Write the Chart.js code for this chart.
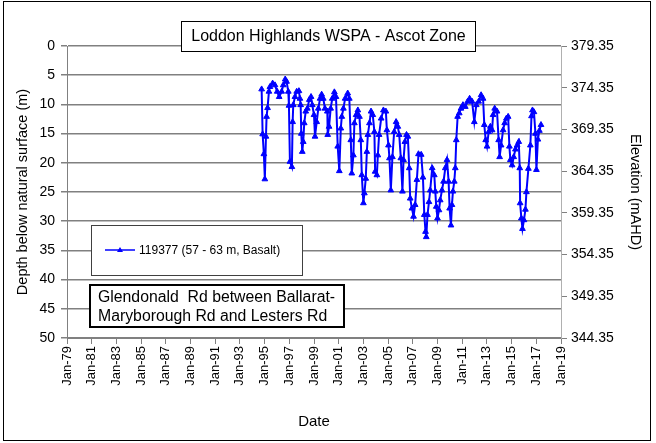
<!DOCTYPE html>
<html>
<head>
<meta charset="utf-8">
<script src="https://cdn.jsdelivr.net/npm/chart.js@4.4.0/dist/chart.umd.min.js"></script>
<style>
body{margin:0;background:#fff;}
canvas{display:block;}
</style>
</head>
<body>
<canvas id="bore" width="656" height="443"></canvas>
<script>
// bore 119377 - depth to water (m below natural surface), dates as decimal years
let dates=[1994.76,1994.84,1994.94,1995.02,1995.11,1995.16,1995.24,1995.35,1995.43,1995.65,1995.84,1996.02,1996.18,1996.38,1996.51,1996.67,1996.78,1996.92,1996.97,1997.05,1997.21,1997.27,1997.32,1997.46,1997.60,1997.78,1997.86,1997.92,1997.97,1998.05,1998.13,1998.21,1998.33,1998.46,1998.62,1998.76,1998.86,1999.00,1999.08,1999.22,1999.35,1999.49,1999.62,1999.75,1999.89,2000.08,2000.11,2000.22,2000.35,2000.48,2000.65,2000.78,
  2000.92,2001.05,2001.17,2001.25,2001.38,2001.52,2001.73,2001.86,2001.98,2002.06,2002.19,2002.27,2002.41,2002.55,2002.68,2002.79,2002.87,2003.00,2003.08,2003.19,2003.28,2003.36,2003.49,2003.62,2003.76,2003.89,2003.95,2004.09,2004.17,2004.27,2004.44,2004.62,2004.82,2004.90,2005.03,2005.11,2005.22,2005.35,2005.49,2005.65,2005.79,2005.90,2006.03,2006.16,2006.25,2006.36,2006.49,2006.60,2006.71,2006.79,2006.93,2007.06,2007.19,2007.33,2007.46,2007.68,2007.82,2007.93,
  2008.03,2008.09,2008.19,2008.31,2008.41,2008.57,2008.74,2008.82,2008.90,2009.00,2009.12,2009.22,2009.36,2009.49,2009.63,2009.77,2009.90,2009.98,2010.09,2010.17,2010.25,2010.36,2010.44,2010.52,2010.63,2010.76,2010.90,2011.06,2011.25,2011.44,2011.60,2011.80,2011.98,2012.14,2012.33,2012.53,2012.69,2012.79,2012.90,2013.01,2013.14,2013.28,2013.42,2013.50,2013.63,2013.82,2013.95,2014.03,2014.15,2014.31,2014.44,2014.58,2014.72,2014.82,2014.90,2015.04,2015.17,2015.31,2015.45,2015.58,2015.66,2015.69,
  2015.79,2015.88,2016.00,2016.12,2016.20,2016.36,2016.52,2016.61,2016.69,2016.81,2016.93,2017.01,2017.13,2017.25,2017.38];
let depths=[7.4,15.1,18.5,22.8,15.5,12.1,10.6,7.8,7.0,6.4,6.7,7.8,8.7,7.8,6.7,5.7,6.1,7.8,10.2,19.8,20.7,13.0,10.1,8.7,7.8,7.7,9.0,10.1,15.0,18.1,16.4,13.2,11.2,10.7,9.2,8.7,10.1,11.8,15.5,13.0,10.7,9.0,8.3,9.0,10.7,11.2,15.2,13.8,10.7,9.0,7.9,8.7,
  17.2,21.4,14.1,12.1,10.7,9.0,8.1,9.0,16.1,21.8,18.7,13.2,11.8,11.0,12.1,16.1,22.1,26.9,25.2,22.7,18.1,15.2,13.2,11.2,11.8,14.7,21.5,22.1,18.7,15.2,12.4,11.0,11.2,14.4,17.0,19.2,24.7,19.0,14.7,13.0,13.8,15.2,19.2,24.9,19.5,16.4,15.2,15.5,20.9,26.1,27.8,29.2,27.2,22.9,18.5,18.6,22.5,28.9,
  31.8,32.7,28.9,26.7,24.7,20.9,22.1,24.9,27.5,29.5,28.1,26.4,24.7,23.2,20.9,19.5,23.2,27.8,30.7,27.2,24.9,23.2,20.9,16.1,12.1,11.5,10.7,10.1,10.4,9.5,9.0,9.5,13.0,10.1,9.5,8.4,9.0,13.5,16.1,17.2,14.7,13.8,14.4,11.8,10.7,11.2,16.1,19.0,17.0,14.4,13.2,12.4,12.1,17.2,19.5,20.4,19.0,17.7,17.0,16.4,20.9,26.9,
  29.5,31.3,29.8,28.0,25.0,21.0,17.0,12.0,11.0,11.3,15.0,21.2,16.0,14.5,13.5];

let yearTicks=[1979,1981,1983,1985,1987,1989,1991,1993,1995,1997,1999,2001,2003,2005,2007,2009,2011,2013,2015,2017,2019];
let depthTicks=[0,5,10,15,20,25,30,35,40,45,50];
let elevTicks=[379.35,374.35,369.35,364.35,359.35,354.35,349.35,344.35];
let seriesName='119377 (57 - 63 m, Basalt)';
let chartTitle='Loddon Highlands WSPA - Ascot Zone';
let noteLines=['Glendonald  Rd between Ballarat-','Maryborough Rd and Lesters Rd'];

const FONT='"Liberation Sans", Arial, sans-serif';
const BLUE='#0000ff';
const GRID='#808080';

let points=[];
for(let i=0;i<dates.length;++i){
    points.push({x:dates[i],y:depths[i]});
}

// title box, legend box, note box and the outer frame
const boxes={
    id:'boxes',
    afterDraw(chart){
        const ctx=chart.ctx;
        ctx.save();
        // title
        ctx.fillStyle='#fff';
        ctx.fillRect(181,21,295,31);
        ctx.strokeStyle='#000';
        ctx.lineWidth=1;
        ctx.strokeRect(181.5,21.5,294,30);
        ctx.fillStyle='#000';
        ctx.font='16px '+FONT;
        ctx.textAlign='center';
        ctx.textBaseline='middle';
        ctx.fillText(chartTitle,328.5,37);
        // legend
        ctx.fillStyle='#fff';
        ctx.fillRect(91,225,212,51);
        ctx.strokeStyle='#404040';
        ctx.strokeRect(91.5,225.5,211,50);
        ctx.strokeStyle=BLUE;
        ctx.lineWidth=1.5;
        ctx.beginPath();ctx.moveTo(105,250);ctx.lineTo(135,250);ctx.stroke();
        ctx.fillStyle=BLUE;
        ctx.beginPath();ctx.moveTo(120,247);ctx.lineTo(123,252);ctx.lineTo(117,252);ctx.closePath();ctx.fill();
        ctx.fillStyle='#000';
        ctx.font='12px '+FONT;
        ctx.textAlign='left';
        ctx.fillText(seriesName,139,250.5);
        // note
        ctx.fillStyle='#fff';
        ctx.fillRect(89,284,256,44);
        ctx.strokeStyle='#000';
        ctx.lineWidth=2;
        ctx.strokeRect(90,285,254,42);
        ctx.fillStyle='#000';
        ctx.font='15.8px '+FONT;
        ctx.fillText(noteLines[0],98,298);
        ctx.fillText(noteLines[1],98,317);
        // frame
        ctx.lineWidth=1;
        ctx.strokeStyle='#000';
        ctx.strokeRect(3.5,1.5,647,439);
        ctx.restore();
    }
};

new Chart(document.getElementById('bore'),{
    type:'line',
    data:{
        datasets:[{
            label:seriesName,
            data:points,
            borderColor:BLUE,
            backgroundColor:BLUE,
            borderWidth:2,
            pointStyle:'triangle',
            pointRadius:3.3,
            pointBorderWidth:1,
            tension:0
        }]
    },
    options:{
        responsive:false,
        animation:false,
        layout:{padding:{top:46,left:0,right:0,bottom:0}},
        plugins:{legend:{display:false},tooltip:{enabled:false}},
        scales:{
            x:{
                type:'linear',position:'bottom',min:1979,max:2019,
                afterBuildTicks:function(s){s.ticks=yearTicks.map(v=>({value:v}));},
                afterFit:function(s){s.height=105;},
                ticks:{
                    autoSkip:false,minRotation:90,maxRotation:90,padding:2,color:'#000',
                    font:{family:FONT,size:13},
                    callback:function(v){return 'Jan-'+String(v%100).padStart(2,'0');}
                },
                grid:{drawOnChartArea:false,color:GRID,tickLength:6},
                border:{color:GRID},
                title:{display:true,text:'Date',color:'#000',font:{family:FONT,size:15},padding:{top:0,bottom:12}}
            },
            y:{
                type:'linear',position:'left',reverse:true,min:0,max:50,
                afterBuildTicks:function(s){s.ticks=depthTicks.map(v=>({value:v}));},
                afterFit:function(s){s.width=67;},
                ticks:{color:'#000',padding:6,font:{family:FONT,size:14}},
                grid:{color:GRID,lineWidth:1.5,tickLength:6},
                border:{color:GRID},
                title:{display:true,text:'Depth below natural surface (m)',color:'#000',font:{family:FONT,size:14.5},padding:{top:14,bottom:0}}
            },
            y2:{
                type:'linear',position:'right',min:344.35,max:379.35,
                afterBuildTicks:function(s){s.ticks=elevTicks.map(v=>({value:v}));},
                afterFit:function(s){s.width=95;},
                ticks:{color:'#000',padding:4,font:{family:FONT,size:14},callback:function(v){return v.toFixed(2);}},
                grid:{drawOnChartArea:false,color:GRID,tickLength:6},
                border:{color:'#b0b0b0'},
                title:{display:true,text:'Elevation (mAHD)',color:'#000',font:{family:FONT,size:14.5},padding:{top:12,bottom:0}}
            }
        }
    },
    plugins:[boxes]
});
</script>
</body>
</html>
